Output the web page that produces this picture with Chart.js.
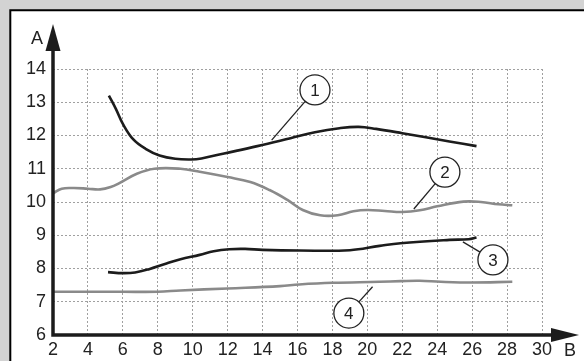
<!DOCTYPE html>
<html>
<head>
<meta charset="utf-8">
<script src="https://cdn.jsdelivr.net/npm/chart.js@4/dist/chart.umd.min.js"></script>
<style>
  html, body { margin: 0; padding: 0; background: #d3d3d3; }
  #wrap { width: 584px; height: 361px; position: relative; }
</style>
</head>
<body>
<div id="wrap"><canvas id="c" width="584" height="361"></canvas></div>
<script>
// ---- data ----
const xTicks = [2, 4, 6, 8, 10, 12, 14, 16, 18, 20, 22, 24, 26, 28, 30];
const yTicks = [6, 7, 8, 9, 10, 11, 12, 13, 14];

const curve1X = [5.2, 5.6, 6.0, 6.6, 7.3, 8.1, 9.0, 9.9, 10.5, 11.8, 13.7, 15.6, 17.0, 18.4, 19.5, 20.5, 22.0, 24.7, 26.25];
const curve1Y = [13.2, 12.8, 12.35, 11.88, 11.6, 11.4, 11.3, 11.28, 11.31, 11.46, 11.68, 11.92, 12.1, 12.22, 12.26, 12.2, 12.07, 11.82, 11.68];

const curve2X = [2.0, 2.5, 3.2, 4.0, 4.7, 5.3, 5.8, 6.8, 7.8, 9.3, 10.4, 12.0, 13.3, 14.4, 15.4, 16.3, 17.3, 18.3, 19.2, 20.0, 21.0, 22.0, 23.0, 24.0, 25.5, 26.5, 27.5, 28.3];
const curve2Y = [10.26, 10.4, 10.42, 10.4, 10.38, 10.45, 10.57, 10.85, 11.0, 11.0, 10.91, 10.75, 10.6, 10.36, 10.07, 9.76, 9.6, 9.6, 9.72, 9.76, 9.73, 9.7, 9.75, 9.87, 10.01, 10.0, 9.93, 9.9];

const curve3X = [5.15, 6.0, 6.7, 7.5, 8.5, 9.3, 10.4, 11.2, 12.1, 13.0, 14.0, 16.1, 19.0, 20.7, 21.9, 24.7, 25.8, 26.25];
const curve3Y = [7.89, 7.86, 7.88, 7.98, 8.15, 8.28, 8.41, 8.52, 8.58, 8.59, 8.56, 8.54, 8.55, 8.68, 8.76, 8.86, 8.88, 8.93];

const curve4X = [2.0, 4.0, 6.0, 8.0, 9.3, 12.0, 15.0, 16.1, 18.0, 20.7, 21.9, 23.0, 24.2, 26.0, 28.3];
const curve4Y = [7.3, 7.3, 7.3, 7.3, 7.34, 7.4, 7.47, 7.52, 7.57, 7.6, 7.62, 7.63, 7.6, 7.58, 7.6];

// callouts: label, circle centre (data units), leader end on curve (data units)
const calloutLabels = ["1", "2", "3", "4"];
const calloutCenterX = [17.0, 24.44, 27.19, 18.94];
const calloutCenterY = [13.37, 10.9, 8.26, 6.66];
const calloutTipX = [14.52, 22.66, 25.47, 20.3];
const calloutTipY = [11.86, 9.79, 8.8, 7.45];

const axisTitleY = "A";
const axisTitleX = "B";

// ---- styles ----
const BLACK = '#1c1c1c';
const GRAY = '#8a8a8a';
const FONT = '"Liberation Sans", Arial, sans-serif';

function pts(xs, ys) { return xs.map((x, i) => ({ x: x, y: ys[i] })); }

const framePlugin = {
  id: 'frame',
  beforeDraw(chart) {
    const ctx = chart.ctx;
    ctx.save();
    ctx.fillStyle = '#d3d3d3';
    ctx.fillRect(0, 0, chart.width, chart.height);
    ctx.fillStyle = '#ffffff';
    ctx.fillRect(10, 10, chart.width - 10, chart.height - 10);
    ctx.strokeStyle = '#000';
    ctx.lineWidth = 2;
    ctx.beginPath();
    ctx.moveTo(10.3, chart.height);
    ctx.lineTo(10.3, 10.3);
    ctx.lineTo(chart.width, 10.3);
    ctx.stroke();
    ctx.restore();
  },
  afterDatasetsDraw(chart) {
    const ctx = chart.ctx;
    const xs = chart.scales.x, ys = chart.scales.y;
    const x0 = xs.getPixelForValue(xs.min);
    const y0 = ys.getPixelForValue(ys.min);
    ctx.save();
    // axes
    ctx.strokeStyle = BLACK;
    ctx.fillStyle = BLACK;
    ctx.lineWidth = 3.5;
    ctx.lineCap = 'butt';
    ctx.beginPath();
    ctx.moveTo(x0, y0 + 1.75);
    ctx.lineTo(x0, 45);
    ctx.moveTo(x0 - 1.75, y0);
    ctx.lineTo(556, y0);
    ctx.stroke();
    // arrow heads
    ctx.beginPath();
    ctx.moveTo(x0, 24);
    ctx.lineTo(x0 - 7.5, 51);
    ctx.lineTo(x0 + 7.5, 51);
    ctx.closePath();
    ctx.fill();
    ctx.beginPath();
    ctx.moveTo(579, y0);
    ctx.lineTo(551, y0 - 7);
    ctx.lineTo(551, y0 + 7);
    ctx.closePath();
    ctx.fill();
    // axis titles
    ctx.font = '18px ' + FONT;
    ctx.fillStyle = '#222';
    ctx.textAlign = 'center';
    ctx.textBaseline = 'middle';
    ctx.fillText(axisTitleY, 37, 39);
    ctx.fillText(axisTitleX, 570, 351);
    // callouts
    const R = 15;
    ctx.font = '17px ' + FONT;
    for (let i = 0; i < calloutLabels.length; i++) {
      const cx = xs.getPixelForValue(calloutCenterX[i]);
      const cy = ys.getPixelForValue(calloutCenterY[i]);
      const tx = xs.getPixelForValue(calloutTipX[i]);
      const ty = ys.getPixelForValue(calloutTipY[i]);
      const d = Math.hypot(tx - cx, ty - cy);
      const sx = cx + (tx - cx) / d * R;
      const sy = cy + (ty - cy) / d * R;
      ctx.strokeStyle = '#222';
      ctx.lineWidth = 1.3;
      ctx.beginPath();
      ctx.moveTo(sx, sy);
      ctx.lineTo(tx, ty);
      ctx.stroke();
      ctx.beginPath();
      ctx.arc(cx, cy, R, 0, Math.PI * 2);
      ctx.fillStyle = '#fff';
      ctx.fill();
      ctx.stroke();
      ctx.fillStyle = '#222';
      ctx.fillText(calloutLabels[i], cx, cy + 1);
    }
    ctx.restore();
  }
};

const lineDs = (label, xs, ys, color) => ({
  label: label,
  data: pts(xs, ys),
  borderColor: color,
  borderWidth: 2.6,
  pointRadius: 0,
  fill: false,
  tension: 0.4,
  borderCapStyle: 'butt'
});

new Chart(document.getElementById('c'), {
  type: 'line',
  data: {
    datasets: [
      lineDs('4', curve4X, curve4Y, GRAY),
      lineDs('2', curve2X, curve2Y, GRAY),
      lineDs('3', curve3X, curve3Y, BLACK),
      lineDs('1', curve1X, curve1Y, BLACK)
    ]
  },
  options: {
    responsive: false,
    animation: false,
    events: [],
    layout: { padding: { left: 10, top: 69, right: 42, bottom: 0 } },
    plugins: { legend: { display: false }, tooltip: { enabled: false } },
    scales: {
      x: {
        type: 'linear',
        min: xTicks[0],
        max: xTicks[xTicks.length - 1],
        afterFit(s) { s.height = 26; },
        afterBuildTicks(s) { s.ticks = xTicks.map(v => ({ value: v })); },
        ticks: { font: { size: 18, family: FONT }, color: '#222', padding: 4, maxRotation: 0, autoSkip: false },
        grid: { color: '#a0a0a0', lineWidth: 1, drawTicks: false },
        border: { display: false, dash: [2, 2] }
      },
      y: {
        type: 'linear',
        min: yTicks[0],
        max: yTicks[yTicks.length - 1],
        afterFit(s) { s.width = 43; },
        afterBuildTicks(s) { s.ticks = yTicks.map(v => ({ value: v })); },
        ticks: { font: { size: 18, family: FONT }, color: '#222', padding: 7, autoSkip: false },
        grid: { color: '#a0a0a0', lineWidth: 1, drawTicks: false },
        border: { display: false, dash: [2, 2] }
      }
    }
  },
  plugins: [framePlugin]
});
</script>
</body>
</html>
